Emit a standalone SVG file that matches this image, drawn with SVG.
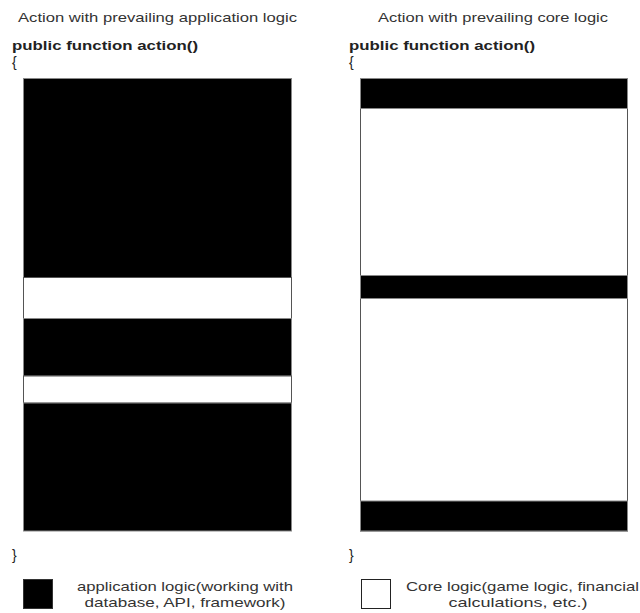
<svg xmlns="http://www.w3.org/2000/svg" width="640" height="613" viewBox="0 0 640 613">
  <style>
    text { font-family: "Liberation Sans", Arial, sans-serif; fill: #222; }
    .title { font-size: 13.5px; text-anchor: middle; fill: #333; }
    .code { font-size: 13.5px; font-weight: bold; }
    .brace { font-size: 14px; }
    .legend { font-size: 13.5px; text-anchor: middle; fill: #333; }
    .app { fill: #000; stroke: #888; stroke-width: 1; }
    .core { fill: #fff; stroke: #555; stroke-width: 1; }
  </style>
  <rect width="640" height="613" fill="#fff"/>

  <!-- Left column: action dominated by application logic -->
  <g id="left-column">
    <text class="title" x="157.5" y="22" textLength="279" lengthAdjust="spacingAndGlyphs">Action with prevailing application logic</text>
    <text class="code" x="12" y="50" textLength="186" lengthAdjust="spacingAndGlyphs">public function action()</text>
    <text class="brace" x="12" y="67">{</text>
    <rect class="app" x="23.5" y="78.5" width="268" height="199"/>
    <rect class="core" x="23.5" y="277.5" width="268" height="41"/>
    <rect class="app" x="23.5" y="318.5" width="268" height="57.5"/>
    <rect class="core" x="23.5" y="376" width="268" height="27"/>
    <rect class="app" x="23.5" y="403" width="268" height="128"/>
    <text class="brace" x="12" y="560">}</text>
  </g>

  <!-- Right column: action dominated by core logic -->
  <g id="right-column">
    <text class="title" x="493" y="22" textLength="230" lengthAdjust="spacingAndGlyphs">Action with prevailing core logic</text>
    <text class="code" x="349" y="50" textLength="186" lengthAdjust="spacingAndGlyphs">public function action()</text>
    <text class="brace" x="349" y="67">{</text>
    <rect class="core" x="360.5" y="78.5" width="267" height="452.5"/>
    <rect class="app" x="360.5" y="78.5" width="267" height="30"/>
    <rect class="app" x="360.5" y="275.5" width="267" height="23"/>
    <rect class="app" x="360.5" y="501" width="267" height="30"/>
    <text class="brace" x="349" y="560">}</text>
  </g>

  <!-- Legend -->
  <g id="legend-app">
    <rect x="23.5" y="579.5" width="29" height="29" fill="#000" stroke="#333"/>
    <text class="legend" x="185" y="591" textLength="216" lengthAdjust="spacingAndGlyphs">application logic(working with</text>
    <text class="legend" x="185" y="607" textLength="201" lengthAdjust="spacingAndGlyphs">database, API, framework)</text>
  </g>
  <g id="legend-core">
    <rect x="361.5" y="579.5" width="29" height="29" fill="#fff" stroke="#222"/>
    <text class="legend" x="522.5" y="591" textLength="233" lengthAdjust="spacingAndGlyphs">Core logic(game logic, financial</text>
    <text class="legend" x="518" y="607" textLength="139" lengthAdjust="spacingAndGlyphs">calculations, etc.)</text>
  </g>
</svg>
